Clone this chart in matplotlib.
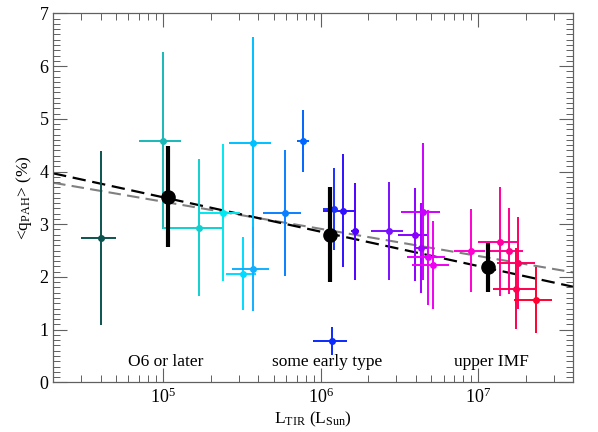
import numpy as np
import matplotlib
matplotlib.use('Agg')
import matplotlib.pyplot as plt
from matplotlib.ticker import MultipleLocator, LogLocator, NullFormatter

plt.rcParams['font.family'] = ['Liberation Serif', 'DejaVu Serif']
plt.rcParams['mathtext.fontset'] = 'custom'
plt.rcParams['mathtext.rm'] = 'Liberation Serif'
plt.rcParams['mathtext.it'] = 'Liberation Serif:italic'

# individual clusters: L_TIR, x error range, <q_PAH>, y error
l_tir = [4.0e4, 1.0e5, 1.69e5, 2.38e5, 3.18e5, 3.69e5, 3.69e5, 5.89e5, 7.69e5,
         1.18e6, 1.21e6, 1.38e6, 1.64e6, 2.71e6, 3.94e6, 4.33e6, 4.42e6, 4.79e6,
         5.15e6, 9.0e6, 1.37e7, 1.56e7, 1.77e7, 1.73e7, 2.31e7]
l_lo = [3.0e4, 7.0e4, 1.0e5, 1.71e5, 2.5e5, 2.62e5, 2.72e5, 4.3e5, 7.0e5,
        8.9e5, 1.03e6, 1.03e6, 1.55e6, 2.09e6, 3.1e6, 3.95e6, 3.2e6, 3.5e6,
        3.8e6, 6.97e6, 9.95e6, 1.19e7, 1.31e7, 1.23e7, 1.67e7]
l_hi = [5.0e4, 1.29e5, 2.38e5, 3.06e5, 3.87e5, 4.8e5, 4.68e5, 7.46e5, 8.36e5,
        1.46e6, 1.26e6, 1.68e6, 1.75e6, 3.3e6, 4.8e6, 4.8e6, 5.74e6, 6.1e6,
        6.46e6, 1.1e7, 1.76e7, 1.92e7, 2.27e7, 2.31e7, 2.94e7]
q_pah = [2.74, 4.58, 2.93, 3.22, 2.06, 4.55, 2.15, 3.21, 4.58,
         0.78, 3.29, 3.26, 2.87, 2.87, 2.80, 2.55, 3.24, 2.37,
         2.23, 2.50, 2.67, 2.49, 2.27, 1.78, 1.56]
q_err = [1.65, 1.68, 1.30, 1.30, 0.69, 2.00, 0.79, 1.19, 0.58,
         0.27, 0.78, 1.07, 0.92, 0.93, 0.88, 0.86, 1.30, 0.90,
         0.83, 0.79, 1.03, 0.82, 0.87, 0.76, 0.62]
colors = ['#0b5450', '#1ab8b8', '#10d0d0', '#00e8f0', '#00dcff', '#00c0ff',
          '#10b0ff', '#0a80ff', '#0066ff', '#0a2aff', '#1a30ff', '#3010ff',
          '#5000ff', '#7a10ff', '#8a00ff', '#a000ff', '#cc00ff', '#e800ff',
          '#f000f0', '#ff00d0', '#ff00a0', '#ff0090', '#ff0060', '#ff0050',
          '#ff0030']

# binned averages
bin_l = [1.07e5, 1.15e6, 1.15e7]
bin_q = [3.52, 2.80, 2.18]
bin_err = [0.955, 0.90, 0.47]

# fits: value at the two ends of log L_TIR
fit_logl = [4.3, 7.6]
fit_black = [3.966, 1.814]
fit_gray = [3.787, 2.087]

group_names = ['O6 or later', 'some early type', 'upper IMF']
group_x = [1.03e5, 1.1e6, 1.21e7]

fig = plt.figure(figsize=(5.98, 4.32), dpi=100)
ax = fig.add_axes([0.0891, 0.115, 0.8696, 0.854])
ax.set_xscale('log')

lx = np.array(fit_logl)
ax.plot(10**lx, fit_gray, color='#808080', lw=1.5, dashes=(6, 3), zorder=1)
ax.plot(10**lx, fit_black, color='black', lw=1.6, dashes=(6, 3), zorder=1)

for i in range(len(l_tir)):
    xe = [[l_tir[i] - l_lo[i]], [l_hi[i] - l_tir[i]]]
    ax.errorbar([l_tir[i]], [q_pah[i]], xerr=xe, yerr=[q_err[i]], fmt='o',
                color=colors[i], ms=4, elinewidth=1.4, capsize=0, zorder=2)

ax.errorbar(bin_l, bin_q, yerr=bin_err, fmt='o', color='black', ms=9.5,
            elinewidth=3, capsize=0, zorder=3)

for name, gx in zip(group_names, group_x):
    ax.text(gx, 0.38, name, ha='center', va='center', fontsize=12.5)

ax.set_xlim(2e4, 4e7)
ax.set_ylim(0, 7)
ax.yaxis.set_major_locator(MultipleLocator(1))
ax.yaxis.set_minor_locator(MultipleLocator(0.1))
ax.xaxis.set_major_locator(LogLocator(base=10, numticks=10))
ax.xaxis.set_minor_locator(LogLocator(base=10, subs=np.arange(2, 10), numticks=20))
ax.xaxis.set_minor_formatter(NullFormatter())
ax.tick_params(which='both', direction='in', top=True, right=True,
               color='#606060', labelsize=13)
ax.tick_params(which='major', length=10, width=0.8)
ax.tick_params(which='minor', length=5, width=0.7)
for s in ax.spines.values():
    s.set_color('#606060')
    s.set_linewidth(0.9)

ax.set_xlabel(r'L$_{\rm TIR}$ (L$_{\rm Sun}$)', fontsize=12.5, labelpad=2)
ax.set_ylabel(r'<q$_{\rm PAH}$> (%)', fontsize=12.5, labelpad=4)

fig.savefig('out.png', dpi=100)
